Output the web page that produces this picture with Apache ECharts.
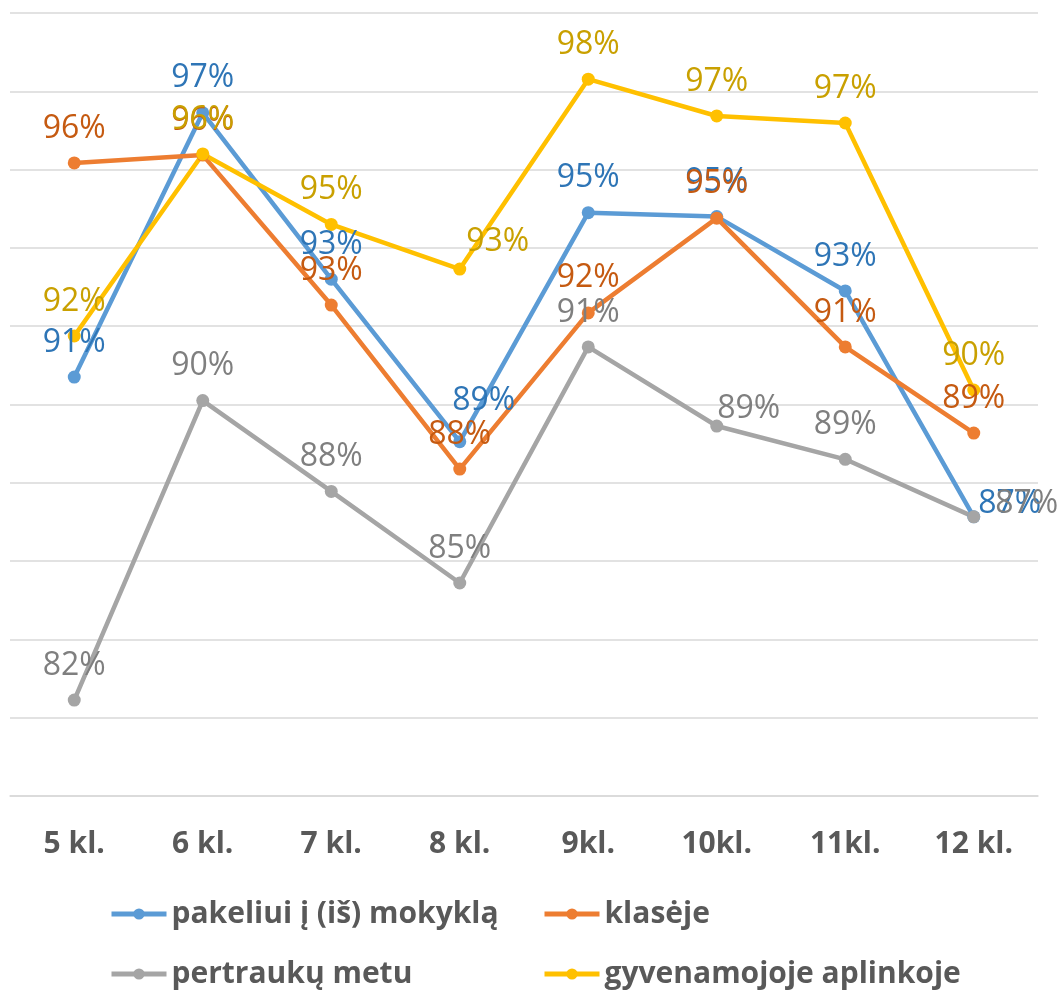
<!DOCTYPE html>
<html>
<head>
<meta charset="utf-8">
<script src="https://cdn.jsdelivr.net/npm/echarts@6/dist/echarts.min.js"></script>
<style>
  html, body { margin: 0; padding: 0; background: #fff; }
  #chart { width: 1061px; height: 991px; }
</style>
</head>
<body>
<div id="chart"></div>
<script>
// grades on the x axis
const grades = ['5 kl.', '6 kl.', '7 kl.', '8 kl.', '9kl.', '10kl.', '11kl.', '12 kl.'];

// share of pupils feeling safe, %
const pakeliui = [90.7, 97.45, 93.2, 89.05, 94.9, 94.8, 92.9, 87.13];
const klaseje = [96.17, 96.37, 92.54, 88.35, 92.34, 94.76, 91.47, 89.27];
const pertraukuMetu = [82.45, 90.1, 87.78, 85.44, 91.47, 89.45, 88.6, 87.13];
const gyvenamojoje = [91.75, 96.4, 94.6, 93.46, 98.31, 97.37, 97.19, 90.37];

const seriesNames = ['pakeliui į (iš) mokyklą', 'klasėje', 'pertraukų metu', 'gyvenamojoje aplinkoje'];

const lineColors = ['#5B9BD5', '#ED7D31', '#A5A5A5', '#FFC000'];
const labelColors = ['#2E75B6', '#C55A11', '#7F7F7F', '#C9A000'];

// labels that were dragged aside in the original ([series, category] -> [dx, dy])
const labelNudge = {
  '0-3': [24, -6],
  '0-7': [36, 22],
  '2-5': [32, 17],
  '2-7': [53, 22],
  '3-3': [38, 7]
};

const FONT = "'Open Sans', 'Noto Sans', sans-serif";

const allValues = [pakeliui, klaseje, pertraukuMetu, gyvenamojoje];

const series = allValues.map((vals, s) => ({
  name: seriesNames[s],
  type: 'line',
  data: vals,
  symbol: 'circle',
  symbolSize: 13,
  color: lineColors[s],
  lineStyle: { width: 4.5, color: lineColors[s] },
  itemStyle: { color: lineColors[s] },
  label: {
    show: true,
    position: 'top',
    distance: 12,
    fontFamily: FONT,
    fontSize: 32,
    color: labelColors[s],
    formatter: (p) => Math.round(p.value) + '%'
  },
  labelLayout: (params) => {
    const nudge = labelNudge[s + '-' + params.dataIndex];
    if (!nudge) return {};
    return { dx: nudge[0], dy: nudge[1] };
  },
  emphasis: { disabled: true },
  animation: false
}));

const makeLegend = (names, left) => ({
  data: names,
  orient: 'vertical',
  left: left,
  top: 894,
  height: 97,
  itemWidth: 55,
  itemHeight: 14,
  itemGap: 30,
  lineStyle: { width: 5 },
  textStyle: { fontFamily: FONT, fontSize: 30, lineHeight: 30, fontWeight: 'bold', color: '#595959' }
});

const option = {
  animation: false,
  textStyle: { fontFamily: FONT },
  grid: { left: 10, right: 23, top: 13, bottom: 195, containLabel: false },
  legend: [
    makeLegend([seriesNames[0], seriesNames[2]], 104),
    makeLegend([seriesNames[1], seriesNames[3]], 537)
  ],
  xAxis: {
    type: 'category',
    data: grades,
    boundaryGap: true,
    axisLine: { lineStyle: { color: '#D9D9D9', width: 1.5 } },
    axisTick: { show: false },
    axisLabel: {
      margin: 33,
      fontFamily: FONT,
      fontSize: 30,
      fontWeight: 'bold',
      color: '#595959'
    }
  },
  yAxis: {
    type: 'value',
    min: 80,
    max: 100,
    interval: 2,
    axisLabel: { show: false },
    axisLine: { show: false },
    axisTick: { show: false },
    splitLine: { lineStyle: { color: '#D9D9D9', width: 1.5 } }
  },
  series: series
};

const chart = echarts.init(document.getElementById('chart'), null, { renderer: 'canvas' });
chart.setOption(option);
</script>
</body>
</html>
